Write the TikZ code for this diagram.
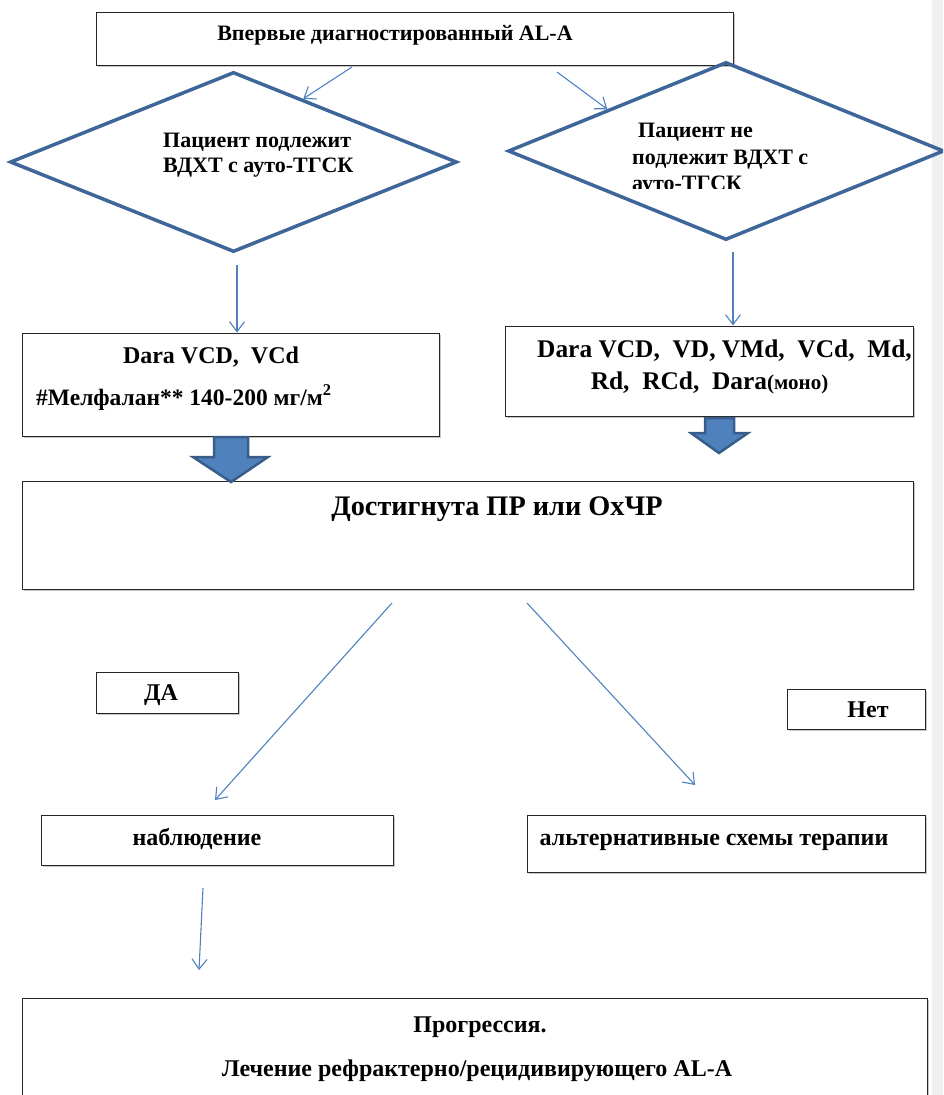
\documentclass[tikz,border=0pt]{standalone}
\usepackage{fontspec}
\setmainfont{Liberation Serif}
\usetikzlibrary{arrows.meta,shapes.geometric,shadows,calc}
\definecolor{lnblue}{HTML}{4F81BD}
\definecolor{dmblue}{HTML}{3F6698}
\definecolor{arfill}{HTML}{4F81BD}
\definecolor{arline}{HTML}{385D8A}
\definecolor{strip}{HTML}{F0F0F0}
\tikzset{
  box/.style={draw=black!85, line width=1pt, inner sep=0pt, fill=white,
    drop shadow={shadow xshift=1.5pt, shadow yshift=-1.5pt, opacity=0.45, fill=gray}},
  txt/.style={font=\bfseries\fontsize{24}{28}\selectfont, inner sep=0pt, anchor=base},
  bigtxt/.style={font=\bfseries\fontsize{28.3}{34}\selectfont, inner sep=0pt, anchor=base},
  thin/.style={draw=lnblue, line width=1.1pt, -{Straight Barb[length=10pt,width=15pt,line width=1.1pt]}},
  dia/.style={diamond, draw=dmblue, line width=3.5pt, inner sep=0pt},
  blk/.style={fill=arfill, draw=arline, line width=2.5pt, line join=miter},
}
\begin{document}
\begin{tikzpicture}[x=1pt,y=-1pt]
\useasboundingbox (0,0) rectangle (943,1095);
\clip (0,0) rectangle (943,1095);
\fill[strip] (932,0) rectangle (943,1095);

% top box
\node[box, minimum width=637pt, minimum height=53pt] (top) at (414.5,38.5) {};
\node[txt, font=\bfseries\fontsize{22}{26}\selectfont] (toptxt) at (395,40) {Впервые диагностированный AL-A};

% diamonds
\node[dia, minimum width=447pt, minimum height=180pt] (ld) at (233.5,162) {};
\node[txt, font=\bfseries\fontsize{22}{26}\selectfont, anchor=base west] (ldt1) at (163,147) {Пациент подлежит};
\node[txt, font=\bfseries\fontsize{22}{26}\selectfont, anchor=base west] (ldt2) at (163,172) {ВДХТ с ауто-ТГСК};

\node[dia, minimum width=436pt, minimum height=178pt] (rd) at (726,151) {};
\begin{scope}
\clip (600,100) rectangle (840,188);
\node[txt, font=\bfseries\fontsize{22}{26}\selectfont, anchor=base west] (rdt1) at (638,137) {Пациент не};
\node[txt, font=\bfseries\fontsize{22}{26}\selectfont, anchor=base west] (rdt2) at (632,164) {подлежит ВДХТ с};
\node[txt, font=\bfseries\fontsize{22}{26}\selectfont, anchor=base west] (rdt3) at (632,190) {ауто-ТГСК};
\end{scope}

% arrows top -> diamonds
\coordinate (a1s) at (352,67);
\coordinate (a2s) at (557,72);
\draw[thin] (a1s) -- ($(ld.north)!0.31!(ld.east)$);
\draw[thin] (a2s) -- ($(rd.north)!0.54!(rd.west)$);

% therapy boxes
\node[box, minimum width=417pt, minimum height=103pt] (lb) at (230.5,384.5) {};
\node[txt] (lbt1) at (211,363) {Dara VCD,\ \ VCd};
\node[txt, font=\bfseries\fontsize{23.5}{28}\selectfont, anchor=base west] (lbt2) at (36,405) {\#Мелфалан** 140-200 мг/м\textsuperscript{2}};

\node[box, minimum width=408pt, minimum height=90pt] (rb) at (709,371) {};
\node[txt, font=\bfseries\fontsize{25.4}{30}\selectfont] (rbt1) at (724.5,357) {Dara VCD,\ \ VD, VMd,\ \ VCd,\ \ Md,};
\node[txt, font=\bfseries\fontsize{25.4}{30}\selectfont] (rbt2) at (709.5,389) {Rd,\ \ RCd,\ \ Dara\fontsize{21}{24}\selectfont(моно)};

\coordinate (v1s) at (237,265);
\coordinate (v2s) at (733,252);
\draw[thin] (v1s) -- (v1s |- lb.north);
\draw[thin] (v2s) -- (v2s |- rb.north);

% main box
\node[box, minimum width=891pt, minimum height=108pt] (mb) at (467.5,535) {};
\node[bigtxt] (mbt) at (497,515) {Достигнута ПР или ОхЧР};

% block arrows
\draw[blk] (214,437) -- (248,437) -- (248,457) -- (268,457) -- (231,482) -- (193,457) -- (214,457) -- cycle;
\draw[blk] (705,418) -- (734,418) -- (734,433) -- (748,433) -- (719,453) -- (691,433) -- (705,433) -- cycle;

% yes / no
\node[box, minimum width=142pt, minimum height=41pt] (da) at (167,692.5) {};
\node[txt] (dat) at (161,700) {ДА};
\node[box, minimum width=138pt, minimum height=40pt] (net) at (856,709) {};
\node[txt] (nett) at (868,717) {Нет};

% outcomes
\node[box, minimum width=352pt, minimum height=50pt] (obs) at (217,840) {};
\node[txt] (obst) at (197,845) {наблюдение};
\node[box, minimum width=398pt, minimum height=57pt] (alt) at (726,843.5) {};
\node[txt] (altt) at (714,845) {альтернативные схемы терапии};

\coordinate (d1s) at (392,603);
\coordinate (d1e) at (215,800);
\coordinate (d2s) at (527,603);
\coordinate (d2e) at (695,785);
\draw[thin] (d1s) -- (d1e);
\draw[thin] (d2s) -- (d2e);

% progression
\coordinate (p1s) at (203,888);
\coordinate (p1e) at (199,970);
\draw[thin] (p1s) -- (p1e);
\node[box, minimum width=905pt, minimum height=130pt] (prog) at (474.5,1063) {};
\node[txt] (prt1) at (480,1032) {Прогрессия.};
\node[txt] (prt2) at (477,1076) {Лечение рефрактерно/рецидивирующего AL-A};
\end{tikzpicture}
\end{document}
